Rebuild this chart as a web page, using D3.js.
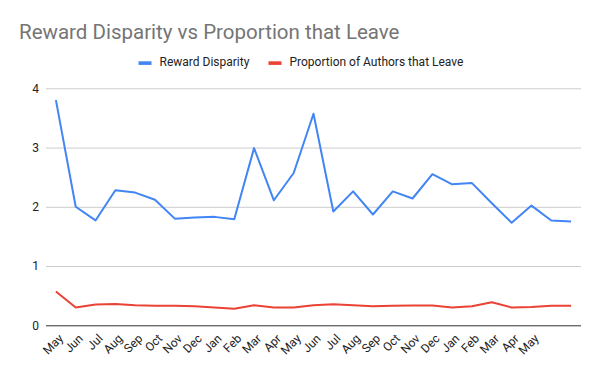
<!DOCTYPE html>
<html>
<head>
<meta charset="utf-8">
<script src="https://cdn.jsdelivr.net/npm/d3@7"></script>
<style>
  html, body { margin: 0; padding: 0; background: #fff; }
  svg { display: block; font-family: Roboto, Arial, sans-serif; }
</style>
</head>
<body>
<svg id="chart" width="600" height="371"></svg>
<script>
const categories = ["May","Jun","Jul","Aug","Sep","Oct","Nov","Dec","Jan","Feb","Mar","Apr",
  "May","Jun","Jul","Aug","Sep","Oct","Nov","Dec","Jan","Feb","Mar","Apr","May","",""];
const rewardDisparity = [3.80,2.00,1.77,2.28,2.24,2.12,1.80,1.82,1.83,1.79,2.99,2.11,
  2.57,3.57,1.92,2.26,1.87,2.26,2.14,2.55,2.38,2.40,2.06,1.73,2.02,1.77,1.75];
const proportionLeave = [0.57,0.30,0.35,0.36,0.34,0.33,0.33,0.32,0.30,0.28,0.34,0.30,
  0.30,0.34,0.355,0.34,0.32,0.33,0.335,0.335,0.30,0.32,0.39,0.30,0.31,0.33,0.33];
const yTicks = [0,1,2,3,4];
const seriesNames = ["Reward Disparity","Proportion of Authors that Leave"];
const seriesColors = ["#4285F4","#EA4335"];

const svg = d3.select("#chart");
const mLeft = 46, mRight = 581, mTop = 88.3, mBottom = 325.3;

const idx = categories.map((d,i)=>i);
const x = d3.scaleBand().domain(idx).range([mLeft, mRight]);
const cx = i => x(i) + x.bandwidth()/2;
const y = d3.scaleLinear().domain([0,4]).range([mBottom, mTop]);

// Title
svg.append("text").attr("x", 19).attr("y", 38.5)
  .attr("font-size", 20.5).attr("fill", "#757575")
  .text("Reward Disparity vs Proportion that Leave");

// Legend
const legend = [[138.5, seriesNames[0], seriesColors[0]], [268.5, seriesNames[1], seriesColors[1]]];
legend.forEach(([lx, name, col]) => {
  svg.append("rect").attr("x", lx).attr("y", 61.3).attr("width", 13).attr("height", 3.6).attr("fill", col);
  svg.append("text").attr("x", lx + 21).attr("y", 66).attr("font-size", 12).attr("fill", "#222").text(name);
});

// Gridlines
const yAxis = d3.axisLeft(y).tickValues(yTicks).tickSize(-(mRight - mLeft)).tickFormat(d3.format("d"));
const gy = svg.append("g").attr("transform", `translate(${mLeft},0)`).call(yAxis);
gy.select(".domain").remove();
gy.selectAll(".tick line").attr("stroke", d => d === 0 ? "#333" : "#ccc").attr("stroke-width", 1);
gy.selectAll(".tick text").attr("x", -7).attr("font-size", 12).attr("fill", "#222")
  .attr("font-family", "Roboto, Arial, sans-serif");

// Lines
const line = d3.line().x((d,i)=>cx(i)).y(d=>y(d));
svg.append("path").datum(proportionLeave).attr("d", line).attr("fill", "none")
  .attr("stroke", seriesColors[1]).attr("stroke-width", 2).attr("stroke-linejoin", "round");
svg.append("path").datum(rewardDisparity).attr("d", line).attr("fill", "none")
  .attr("stroke", seriesColors[0]).attr("stroke-width", 2).attr("stroke-linejoin", "round");

// X axis labels
const xAxis = d3.axisBottom(x).tickSize(0).tickFormat(i => categories[i]);
const gx = svg.append("g").attr("transform", `translate(0,${mBottom})`).call(xAxis);
gx.select(".domain").remove();
gx.selectAll(".tick text")
  .attr("font-size", 12).attr("fill", "#222").attr("font-family", "Roboto, Arial, sans-serif")
  .attr("text-anchor", "end").attr("y", 0).attr("dy", 0)
  .attr("transform", "translate(8,14) rotate(-45)");
</script>
</body>
</html>
